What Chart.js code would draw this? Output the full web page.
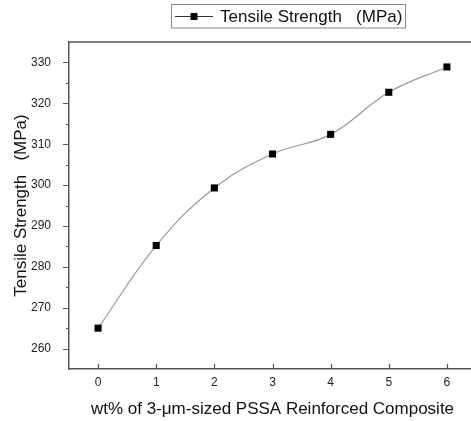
<!DOCTYPE html>
<html>
<head>
<meta charset="utf-8">
<script src="https://cdn.jsdelivr.net/npm/chart.js@4"></script>
<style>
  html, body { margin: 0; padding: 0; background: #fff; overflow: hidden; width: 471px; height: 421px; }
  #wrap { width: 471px; height: 421px; overflow: hidden; position: relative; }
  #myChart { display: block; position: absolute; left: 0; top: 0; }
</style>
</head>
<body>
<div id="wrap"><canvas id="myChart" width="481" height="421"></canvas></div>
<script>
// values
const wtPercent = [0, 1, 2, 3, 4, 5, 6];
const tensileStrength = [265, 285.2, 299.3, 307.6, 312.4, 322.7, 328.9];
const xTickValues = [0, 1, 2, 3, 4, 5, 6];
const yTickValues = [260, 270, 280, 290, 300, 310, 320, 330];
const yMinorValues = [265, 275, 285, 295, 305, 315, 325];
const seriesName = "Tensile Strength   (MPa)";
const xTitle = "wt% of 3-\u03bcm-sized PSSA Reinforced Composite";
const yTitle = "Tensile Strength   (MPa)";

const axisColor = "#555";
const textFont = "Liberation Sans";

// frame top line, inward x ticks, outward y ticks, boxed legend
const framePlugin = {
  id: "frame",
  afterDraw(chart) {
    const ctx = chart.ctx;
    const a = chart.chartArea;
    const xs = chart.scales.x, ys = chart.scales.y;
    ctx.save();
    ctx.strokeStyle = axisColor;
    ctx.lineWidth = 1.5;
    ctx.beginPath();
    ctx.moveTo(a.left, a.top);
    ctx.lineTo(a.right, a.top);
    ctx.stroke();

    ctx.lineWidth = 1.2;
    ctx.beginPath();
    xTickValues.forEach(v => {
      const px = Math.round(xs.getPixelForValue(v)) + 0.5;
      ctx.moveTo(px, a.bottom);
      ctx.lineTo(px, a.bottom - 5);
    });
    yTickValues.forEach(v => {
      const py = Math.round(ys.getPixelForValue(v)) + 0.5;
      ctx.moveTo(a.left, py);
      ctx.lineTo(a.left - 6, py);
    });
    yMinorValues.forEach(v => {
      const py = Math.round(ys.getPixelForValue(v)) + 0.5;
      ctx.moveTo(a.left, py);
      ctx.lineTo(a.left - 3, py);
    });
    ctx.stroke();

    // legend
    ctx.strokeStyle = "#888";
    ctx.lineWidth = 1;
    ctx.strokeRect(171.5, 4.5, 234, 23.5);
    ctx.strokeStyle = "#333";
    ctx.beginPath();
    ctx.moveTo(175, 16.5);
    ctx.lineTo(213, 16.5);
    ctx.stroke();
    ctx.fillStyle = "#000";
    ctx.fillRect(190.5, 13, 7, 7);
    ctx.fillStyle = "#111";
    ctx.font = "17px '" + textFont + "'";
    ctx.textBaseline = "middle";
    ctx.textAlign = "left";
    ctx.fillText(seriesName, 220, 17);
    ctx.restore();
  }
};

new Chart("myChart", {
  type: "scatter",
  data: {
    datasets: [{
      label: seriesName,
      data: wtPercent.map((x, i) => ({ x: x, y: tensileStrength[i] })),
      showLine: true,
      tension: 0.4,
      borderColor: "#999",
      borderWidth: 1.2,
      pointStyle: "rect",
      pointRadius: 5,
      pointBackgroundColor: "#000",
      pointBorderColor: "#000",
      pointBorderWidth: 0
    }]
  },
  options: {
    responsive: false,
    animation: false,
    layout: { padding: { top: 42, left: 0, right: 0, bottom: 0 } },
    plugins: {
      legend: { display: false },
      tooltip: { enabled: false }
    },
    scales: {
      x: {
        type: "linear",
        min: -0.5,
        max: 6.5,
        afterBuildTicks: s => { s.ticks = xTickValues.map(v => ({ value: v })); },
        afterFit: s => { s.height = 52; s.paddingLeft = 0; s.paddingRight = 0; },
        grid: { display: false, drawTicks: false, tickLength: 0 },
        border: { display: true, color: axisColor, width: 1.5 },
        ticks: {
          padding: 6,
          color: "#222",
          font: { family: textFont, size: 12 },
          maxRotation: 0
        },
        title: {
          display: true,
          text: xTitle,
          color: "#111",
          font: { family: textFont, size: 17 },
          padding: { top: 0, bottom: 1 }
        }
      },
      y: {
        min: 255,
        max: 335,
        afterBuildTicks: s => { s.ticks = yTickValues.map(v => ({ value: v })); },
        afterFit: s => { s.width = 69; },
        grid: { display: false, drawTicks: false, tickLength: 0 },
        border: { display: true, color: axisColor, width: 1.5 },
        ticks: {
          padding: 18,
          color: "#222",
          font: { family: textFont, size: 12 }
        },
        title: {
          display: true,
          text: yTitle,
          color: "#111",
          font: { family: textFont, size: 17 },
          padding: { top: 11, bottom: 0 }
        }
      }
    }
  },
  plugins: [framePlugin]
});
</script>
</body>
</html>
